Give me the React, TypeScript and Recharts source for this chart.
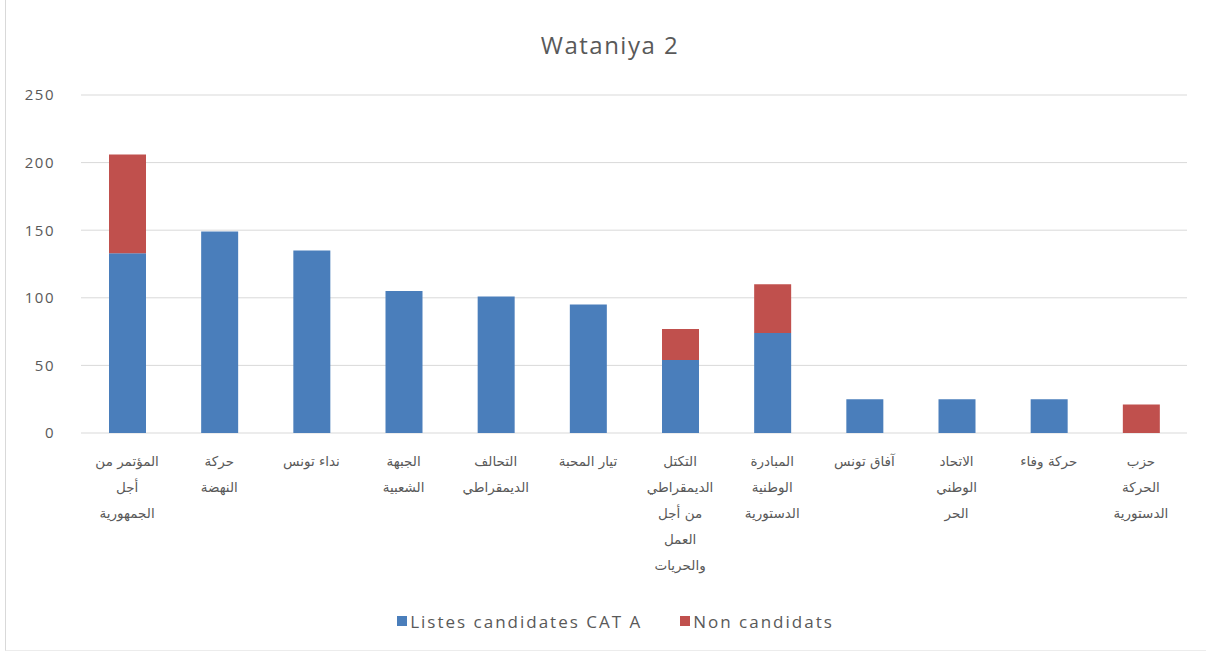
import React from "react";
import { BarChart, Bar, XAxis, YAxis, CartesianGrid, Legend } from "recharts";

const categories: string[] = [
  "المؤتمر من\nأجل\nالجمهورية",
  "حركة\nالنهضة",
  "نداء تونس",
  "الجبهة\nالشعبية",
  "التحالف\nالديمقراطي",
  "تيار المحبة",
  "التكتل\nالديمقراطي\nمن أجل\nالعمل\nوالحريات",
  "المبادرة\nالوطنية\nالدستورية",
  "آفاق تونس",
  "الاتحاد\nالوطني\nالحر",
  "حركة وفاء",
  "حزب\nالحركة\nالدستورية",
];

const listesCandidates: number[] = [133, 149, 135, 105, 101, 95, 54, 74, 25, 25, 25, 0];
const nonCandidats: number[] = [73, 0, 0, 0, 0, 0, 23, 36, 0, 0, 0, 21];

const yTicks: number[] = [0, 50, 100, 150, 200, 250];

const seriesNames = ["Listes candidates CAT A", "Non candidats"];
const seriesColors = ["#4a7ebb", "#c0504d"];

const data = categories.map((c, i) => ({
  name: c,
  a: listesCandidates[i],
  b: nonCandidats[i],
}));

const TEXT = "#595959";

const XTick = (props: any) => {
  const { x, y, payload } = props;
  const lines: string[] = String(payload.value).split("\n");
  return (
    <g transform={`translate(${x},${y})`}>
      <text
        textAnchor="middle"
        fill={TEXT}
        fontFamily="'DejaVu Sans', sans-serif"
        fontSize={13.5}
      >
        {lines.map((l, i) => (
          <tspan key={i} x={0} y={25 + i * 26}>
            {l}
          </tspan>
        ))}
      </text>
    </g>
  );
};

const LegendContent = () => (
  <div
    style={{
      display: "flex",
      justifyContent: "center",
      alignItems: "center",
      height: 24,
      fontFamily: "'Open Sans', sans-serif",
      fontSize: 17,
      letterSpacing: 2,
      color: TEXT,
      paddingLeft: 44,
    }}
  >
    {seriesNames.map((n, i) => (
      <span
        key={n}
        style={{ display: "flex", alignItems: "center", marginRight: i === 0 ? 38 : 0 }}
      >
        <span
          style={{
            display: "inline-block",
            width: 10,
            height: 10,
            background: seriesColors[i],
            marginRight: 3,
          }}
        />
        {n}
      </span>
    ))}
  </div>
);

export default function App() {
  return (
    <div
      style={{
        position: "absolute",
        left: 0,
        top: 0,
        width: 1206,
        height: 657,
        background: "#fff",
      }}
    >
      <div
        style={{
          position: "absolute",
          left: 5,
          top: -2,
          width: 1210,
          height: 652,
          borderLeft: "1px solid #d9d9d9",
          borderBottom: "1px solid #ececec",
        }}
      />
      <div
        style={{
          position: "absolute",
          left: 0,
          top: 28,
          width: 1220,
          textAlign: "center",
          fontFamily: "'Open Sans', sans-serif",
          fontSize: 24,
          letterSpacing: 1.5,
          color: TEXT,
        }}
      >
        Wataniya 2
      </div>
      <BarChart
        width={1206}
        height={657}
        data={data}
        margin={{ top: 95, right: 19, bottom: 24, left: 0 }}
        barCategoryGap={0}
      >
        <CartesianGrid vertical={false} stroke="#d9d9d9" />
        <XAxis
          dataKey="name"
          interval={0}
          height={176}
          axisLine={false}
          tickLine={false}
          tick={<XTick />}
        />
        <YAxis
          width={81}
          domain={[0, 250]}
          ticks={yTicks}
          axisLine={false}
          tickLine={false}
          tickMargin={20}
          tick={{
            fill: TEXT,
            fontSize: 15,
            letterSpacing: 1.5,
            fontFamily: "'Open Sans', sans-serif",
          }}
        />
        <Legend verticalAlign="bottom" align="center" content={<LegendContent />} />
        <Bar
          dataKey="a"
          name={seriesNames[0]}
          stackId="s"
          fill={seriesColors[0]}
          barSize={37}
          isAnimationActive={false}
        />
        <Bar
          dataKey="b"
          name={seriesNames[1]}
          stackId="s"
          fill={seriesColors[1]}
          barSize={37}
          isAnimationActive={false}
        />
      </BarChart>
    </div>
  );
}
